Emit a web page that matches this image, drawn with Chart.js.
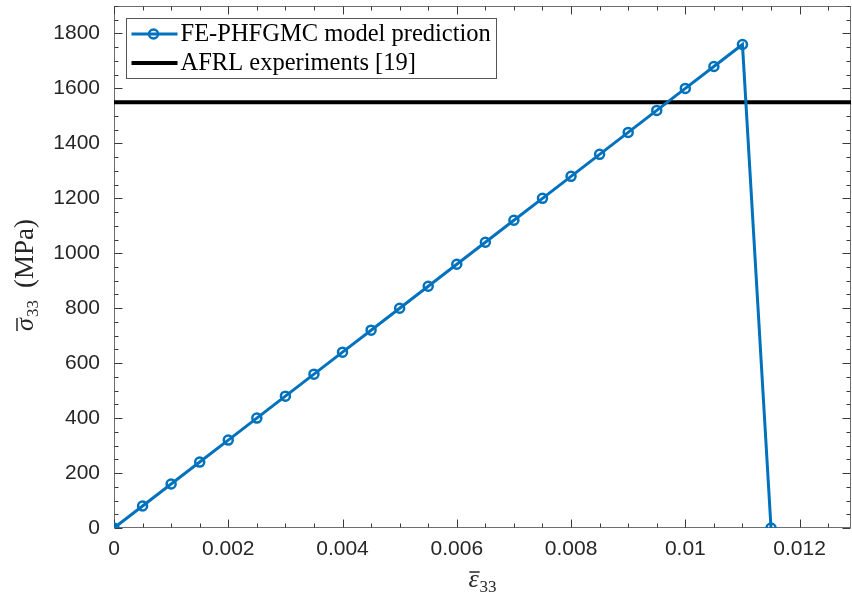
<!DOCTYPE html>
<html>
<head>
<meta charset="utf-8">
<script src="https://cdn.jsdelivr.net/npm/chart.js@4.4.0/dist/chart.umd.min.js"></script>
<style>
  html, body { margin: 0; padding: 0; background: #fff; }
  #wrap { width: 852px; height: 599px; }
</style>
</head>
<body>
<div id="wrap"><canvas id="stressChart"></canvas></div>
<script>
// model prediction (strain, stress in MPa)
var strainValues = [0, 0.0005, 0.001, 0.0015, 0.002, 0.0025, 0.003, 0.0035, 0.004, 0.0045, 0.005, 0.0055,
                    0.006, 0.0065, 0.007, 0.0075, 0.008, 0.0085, 0.009, 0.0095, 0.01, 0.0105, 0.011, 0.0115];
var stressValues = [0, 80, 160, 240, 320, 400, 480, 560, 640, 720, 800, 880,
                    960, 1040, 1120, 1200, 1280, 1360, 1440, 1520, 1600, 1680, 1760, 0];
// experimental strength level
var afrlStrain = [0, 0.0129];
var afrlStress = [1550, 1550];

var seriesLabels = ['FE-PHFGMC model prediction', 'AFRL experiments [19]'];
var xTicks = [0, 0.002, 0.004, 0.006, 0.008, 0.01, 0.012];
var xTickLabels = ['0', '0.002', '0.004', '0.006', '0.008', '0.01', '0.012'];
var yTicks = [0, 200, 400, 600, 800, 1000, 1200, 1400, 1600, 1800];
var yTickLabels = ['0', '200', '400', '600', '800', '1000', '1200', '1400', '1600', '1800'];

var xMin = 0, xMax = 0.0129, yMin = 0, yMax = 1900;
var xMinorStep = 0.0005, yMinorStep = 50;

var blue = '#0072BD';
var tickFont = { family: "'Liberation Sans', Arial, sans-serif", size: 21 };
var serif = "'Liberation Serif', 'Times New Roman', serif";

function toPoints(xs, ys) {
  return xs.map(function(x, i) { return { x: x, y: ys[i] }; });
}

// box, inward ticks, legend and axis titles drawn the MATLAB way
var matlabAxes = {
  id: 'matlabAxes',
  beforeDatasetsDraw: function(chart) {
    var ctx = chart.ctx, a = chart.chartArea, sx = chart.scales.x, sy = chart.scales.y;
    var L = Math.round(a.left) + 0.5, R = Math.round(a.right) - 0.5;
    var T = Math.round(a.top) + 0.5, B = Math.round(a.bottom) - 0.5;
    ctx.save();
    ctx.strokeStyle = '#6e6e6e';
    ctx.lineWidth = 1;
    ctx.strokeRect(L, T, R - L, B - T);
    ctx.beginPath();
    var i, v, p, len;
    for (i = 0; i * xMinorStep <= xMax + 1e-9; i++) {
      v = i * xMinorStep;
      len = (i % 4 === 0) ? 8 : 4;
      p = Math.round(sx.getPixelForValue(v)) + 0.5;
      ctx.moveTo(p, B); ctx.lineTo(p, B - len);
      ctx.moveTo(p, T); ctx.lineTo(p, T + len);
    }
    for (i = 0; i * yMinorStep <= yMax + 1e-9; i++) {
      v = i * yMinorStep;
      len = (i % 4 === 0) ? 8 : 4;
      p = Math.round(sy.getPixelForValue(v)) + 0.5;
      ctx.moveTo(L, p); ctx.lineTo(L + len, p);
      ctx.moveTo(R, p); ctx.lineTo(R - len, p);
    }
    ctx.strokeStyle = '#3a3a3a';
    ctx.stroke();
    ctx.restore();
  },
  afterDraw: function(chart) {
    var ctx = chart.ctx, a = chart.chartArea;
    var ds = chart.data.datasets;
    ctx.save();

    // legend
    var bx = Math.round(a.left) + 12.5, by = Math.round(a.top) + 12.5;
    var bw = 370, bh = 60;
    ctx.fillStyle = '#fff';
    ctx.fillRect(bx, by, bw, bh);
    ctx.strokeStyle = '#555';
    ctx.lineWidth = 1;
    ctx.strokeRect(bx, by, bw, bh);
    var rows = [by + 15, by + 44];
    ctx.font = '24.5px ' + serif;
    ctx.textBaseline = 'middle';
    ctx.fillStyle = '#000';
    ds.forEach(function(d, k) {
      var y = Math.round(rows[k]);
      ctx.beginPath();
      ctx.strokeStyle = d.borderColor;
      ctx.lineWidth = d.borderWidth;
      ctx.moveTo(bx + 5, y); ctx.lineTo(bx + 51, y);
      ctx.stroke();
      if (d.pointRadius > 0) {
        ctx.beginPath();
        ctx.lineWidth = d.pointBorderWidth;
        ctx.arc(bx + 27, y, d.pointRadius, 0, Math.PI * 2);
        ctx.stroke();
      }
      ctx.fillText(d.label, bx + 54, y + 1);
    });

    // x title: eps bar sub 33
    var cx = (a.left + a.right) / 2;
    ctx.fillStyle = '#262626';
    ctx.strokeStyle = '#262626';
    ctx.textBaseline = 'alphabetic';
    ctx.font = 'italic 26px ' + serif;
    var wE = ctx.measureText('\u03B5').width;
    ctx.font = '17px ' + serif;
    var wS = ctx.measureText('33').width;
    var x0 = cx - (wE + 1 + wS) / 2;
    var base = 587;
    ctx.font = 'italic 26px ' + serif;
    ctx.fillText('\u03B5', x0, base);
    ctx.font = '17px ' + serif;
    ctx.fillText('33', x0 + wE + 1, base + 5);
    ctx.beginPath();
    ctx.lineWidth = 1.5;
    ctx.moveTo(x0 + 1, base - 15); ctx.lineTo(x0 + wE + 1, base - 15);
    ctx.stroke();

    // y title: sigma bar sub 33 (MPa), rotated
    var cy = (a.top + a.bottom) / 2 + 8;
    ctx.translate(33, cy);
    ctx.rotate(-Math.PI / 2);
    ctx.font = 'italic 26px ' + serif;
    var wSig = ctx.measureText('\u03C3').width;
    ctx.font = '17px ' + serif;
    var wSub = ctx.measureText('33').width;
    ctx.font = '27px ' + serif;
    var wUnit = ctx.measureText('(MPa)').width;
    var gap = 12;
    var t0 = -(wSig + 1 + wSub + gap + wUnit) / 2;
    ctx.font = 'italic 26px ' + serif;
    ctx.fillText('\u03C3', t0, 0);
    ctx.beginPath();
    ctx.moveTo(t0, -16); ctx.lineTo(t0 + wSig, -16);
    ctx.stroke();
    ctx.font = '17px ' + serif;
    ctx.fillText('33', t0 + wSig + 1, 5);
    ctx.font = '27px ' + serif;
    ctx.fillText('(MPa)', t0 + wSig + 1 + wSub + gap, 0);

    ctx.restore();
  }
};

var ctx = document.getElementById('stressChart').getContext('2d');
var stressChart = new Chart(ctx, {
  type: 'line',
  data: {
    datasets: [{
      label: seriesLabels[0],
      data: toPoints(strainValues, stressValues),
      borderColor: blue,
      borderWidth: 3,
      pointRadius: 4.5,
      pointBorderWidth: 2.5,
      pointBorderColor: blue,
      pointBackgroundColor: 'rgba(255,255,255,0)',
      tension: 0
    }, {
      label: seriesLabels[1],
      data: toPoints(afrlStrain, afrlStress),
      borderColor: '#000',
      borderWidth: 4,
      pointRadius: 0,
      tension: 0
    }]
  },
  options: {
    responsive: true,
    maintainAspectRatio: false,
    animation: false,
    devicePixelRatio: 1,
    layout: { autoPadding: false, padding: { top: 6, right: 1, left: 0, bottom: 0 } },
    plugins: {
      legend: { display: false },
      tooltip: { enabled: false }
    },
    scales: {
      x: {
        type: 'linear',
        min: xMin,
        max: xMax,
        grid: { display: false, drawTicks: false },
        border: { display: false },
        afterBuildTicks: function(scale) {
          scale.ticks = xTicks.map(function(v) { return { value: v }; });
        },
        afterFit: function(scale) {
          scale.height = 71;
          scale.paddingLeft = 0;
          scale.paddingRight = 0;
        },
        ticks: {
          autoSkip: false,
          maxRotation: 0,
          padding: 9,
          color: '#262626',
          font: tickFont,
          callback: function(value, index) { return xTickLabels[index]; }
        }
      },
      y: {
        type: 'linear',
        min: yMin,
        max: yMax,
        grid: { display: false, drawTicks: false },
        border: { display: false },
        afterBuildTicks: function(scale) {
          scale.ticks = yTicks.map(function(v) { return { value: v }; });
        },
        afterFit: function(scale) {
          scale.width = 114;
          scale.paddingTop = 0;
          scale.paddingBottom = 0;
        },
        ticks: {
          autoSkip: false,
          padding: 14,
          color: '#262626',
          font: tickFont,
          callback: function(value, index) { return yTickLabels[index]; }
        }
      }
    }
  },
  plugins: [matlabAxes]
});
</script>
</body>
</html>
